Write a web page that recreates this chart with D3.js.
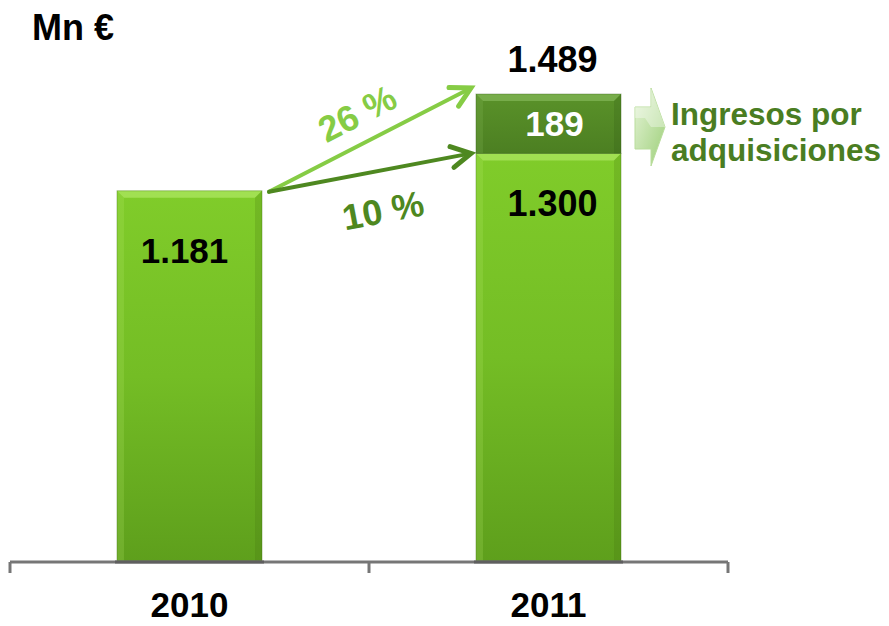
<!DOCTYPE html>
<html><head><meta charset="utf-8">
<script src="https://cdn.jsdelivr.net/npm/d3@7"></script>
<style>
html,body{margin:0;padding:0;background:#fff;}
svg{display:block;}
text{font-family:"Liberation Sans",Arial,sans-serif;font-weight:bold;}
</style></head>
<body>
<script>
const categories = ["2010","2011"];
const baseValues = [1181, 1300];
const acquisitionValues = [0, 189];
const totalLabels = ["1.181", "1.489"];
const baseLabels = ["1.181", "1.300"];
const acqLabels = ["", "189"];
const growthLabels = ["26 %", "10 %"];
const unitLabel = "Mn €";
const legendLines = ["Ingresos por", "adquisiciones"];

const W = 889, H = 626;
const svg = d3.select("body").append("svg").attr("width", W).attr("height", H);
const defs = svg.append("defs");

const gBase = defs.append("linearGradient").attr("id","gBase").attr("x1",0).attr("y1",0).attr("x2",0).attr("y2",1);
gBase.append("stop").attr("offset","0%").attr("stop-color","#80cc2a");
gBase.append("stop").attr("offset","50%").attr("stop-color","#74bd25");
gBase.append("stop").attr("offset","100%").attr("stop-color","#5e9f1c");
const gAcq = defs.append("linearGradient").attr("id","gAcq").attr("x1",0).attr("y1",0).attr("x2",0).attr("y2",1);
gAcq.append("stop").attr("offset","0%").attr("stop-color","#5a9229");
gAcq.append("stop").attr("offset","100%").attr("stop-color","#4c7f22");
const gLeg = defs.append("linearGradient").attr("id","gLeg").attr("x1",0).attr("y1",0).attr("x2",1).attr("y2",1);
gLeg.append("stop").attr("offset","0%").attr("stop-color","#e6f4d8");
gLeg.append("stop").attr("offset","100%").attr("stop-color","#9ccf78");

const x = d3.scaleBand().domain(categories).range([10, 728]).paddingInner(0.596).paddingOuter(0.298);
const y = d3.scaleLinear().domain([0, baseValues[1] + acquisitionValues[1]]).range([562, 94]);
const bw = x.bandwidth();

function bevelBar(g, x0, y0, w, h, fill, light, dark) {
  g.append("rect").attr("x", x0).attr("y", y0).attr("width", w).attr("height", h).attr("fill", fill);
  const b = 7;
  g.append("path").attr("d", `M${x0},${y0}L${x0+w},${y0}L${x0+w-b},${y0+b}L${x0+b},${y0+b}Z`).attr("fill", light).attr("opacity",0.6);
  g.append("path").attr("d", `M${x0},${y0}L${x0+b},${y0+b}L${x0+b},${y0+h}L${x0},${y0+h}Z`).attr("fill", light).attr("opacity",0.2);
  g.append("path").attr("d", `M${x0+w},${y0}L${x0+w-b},${y0+b}L${x0+w-b},${y0+h}L${x0+w},${y0+h}Z`).attr("fill", dark).attr("opacity",0.2);
  g.append("rect").attr("x", x0).attr("y", y0).attr("width", w).attr("height", h).attr("fill","none").attr("stroke", dark).attr("stroke-opacity",0.35).attr("stroke-width",1);
}
const bars = svg.append("g");
categories.forEach((c, i) => {
  bevelBar(bars, x(c), y(baseValues[i]), bw, y(0) - y(baseValues[i]), "url(#gBase)", "#b8ec6e", "#3f6e10");
  if (acquisitionValues[i] > 0) {
    const top = y(baseValues[i] + acquisitionValues[i]);
    bevelBar(bars, x(c), top, bw, y(baseValues[i]) - top, "url(#gAcq)", "#8cc060", "#2f5612");
  }
});

// axis
const axisG = svg.append("g").attr("stroke", "#767676").attr("stroke-width", 3).attr("fill","none");
const r = x.range();
const mid = x(categories[0]) + bw + (x.step() - bw) / 2;
axisG.append("line").attr("x1", r[0]).attr("x2", r[1]).attr("y1", y(0)).attr("y2", y(0));
[r[0], mid, r[1]].forEach(t => axisG.append("line").attr("x1", t).attr("x2", t).attr("y1", y(0)).attr("y2", y(0) + 11));
categories.forEach(c => {
  svg.append("line").attr("x1", x(c) - 2).attr("x2", x(c) + bw + 2).attr("y1", y(0)).attr("y2", y(0)).attr("stroke","#5f5f5f").attr("stroke-width",3);
});

// category labels
svg.selectAll("text.cat").data(categories).join("text").attr("class","cat")
  .attr("x", d => x(d) + bw/2).attr("y", 617).attr("text-anchor","middle")
  .attr("font-size", 35).attr("fill","#000").text(d => d);

// value labels
categories.forEach((c, i) => {
  const cx = x(c) + bw/2;
  if (acquisitionValues[i] > 0) {
    svg.append("text").attr("x", cx + 4).attr("y", y(baseValues[i]) + 63).attr("text-anchor","middle").attr("font-size",36).attr("fill","#000").text(baseLabels[i]);
    svg.append("text").attr("x", cx + 6).attr("y", (y(baseValues[i] + acquisitionValues[i]) + y(baseValues[i]))/2 + 12).attr("text-anchor","middle").attr("font-size",35).attr("fill","#fff").text(acqLabels[i]);
    svg.append("text").attr("x", cx + 4).attr("y", y(baseValues[i] + acquisitionValues[i]) - 22).attr("text-anchor","middle").attr("font-size",36).attr("fill","#000").text(totalLabels[i]);
  } else {
    svg.append("text").attr("x", cx - 5).attr("y", y(baseValues[i]) + 72).attr("text-anchor","middle").attr("font-size",35).attr("fill","#000").text(baseLabels[i]);
  }
});

// unit
svg.append("text").attr("x", 32).attr("y", 40).attr("font-size", 36).attr("fill","#000").text(unitLabel);

// growth arrows
const sx = x(categories[0]) + bw + 7, sy = y(baseValues[0]) + 1;
const ex = x(categories[1]) - 5;
const arrows = [
  {ey: y(baseValues[1] + acquisitionValues[1]) - 6, color: "#86cc45", label: growthLabels[0], lx: 357, ly: 113},
  {ey: y(baseValues[1]), color: "#4e8820", label: growthLabels[1], lx: 383, ly: 210}
];
arrows.forEach(a => {
  const ang = Math.atan2(a.ey - sy, ex - sx);
  svg.append("line").attr("x1", sx).attr("y1", sy).attr("x2", ex).attr("y2", a.ey)
    .attr("stroke", a.color).attr("stroke-width", 4).attr("stroke-linecap","round");
  const hl = 22, ha = 0.5;
  const p1 = [ex - hl*Math.cos(ang - ha), a.ey - hl*Math.sin(ang - ha)];
  const p2 = [ex - hl*Math.cos(ang + ha), a.ey - hl*Math.sin(ang + ha)];
  svg.append("path").attr("d", `M${p1[0]},${p1[1]}L${ex},${a.ey}L${p2[0]},${p2[1]}`)
    .attr("fill","none").attr("stroke", a.color).attr("stroke-width", 5).attr("stroke-linecap","round").attr("stroke-linejoin","miter");
  const deg = ang * 180 / Math.PI;
  svg.append("text").attr("transform", `translate(${a.lx},${a.ly}) rotate(${deg})`)
    .attr("text-anchor","middle").attr("dy","0.36em").attr("font-size", 36).attr("fill", a.color).text(a.label);
});

// legend arrow
const lg = svg.append("g");
lg.append("path").attr("d","M635,107L651,107L651,88L665,127L651,166L651,149L635,149Z")
  .attr("fill","url(#gLeg)").attr("stroke","#b9dd9c").attr("stroke-width",1);
lg.append("path").attr("d","M635,107L651,107L651,88L665,127L651,127L645,118L635,118Z").attr("fill","#fff").attr("opacity",0.35);
legendLines.forEach((t, i) => {
  svg.append("text").attr("x", 671).attr("y", 125 + i*36).attr("font-size", 31.5).attr("fill","#4a7d22").text(t);
});
</script>
</body></html>
